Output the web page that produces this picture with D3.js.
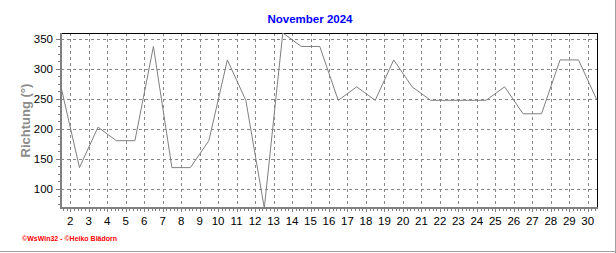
<!DOCTYPE html>
<html>
<head>
<meta charset="utf-8">
<script src="https://cdn.jsdelivr.net/npm/d3@7"></script>
<style>
  body { margin: 0; background: #fff; }
  text { font-family: "Liberation Sans", Arial, sans-serif; }
</style>
</head>
<body>
<div id="chart"></div>
<script>
const width = 616,
    height = 253;

// daily wind direction, November 2024 (day 1..30)
var days = d3.range(1, 31);
var richtung = [270, 135, 202.5, 180, 180, 337.5, 135, 135, 180, 315,
                247.5, 67.5, 360, 337.5, 337.5, 247.5, 270, 247.5, 315, 270,
                247.5, 247.5, 247.5, 247.5, 270, 225, 225, 315, 315, 247.5];
var xTicks = d3.range(2, 31);
var yTicks = [100, 150, 200, 250, 300, 350];

var title = "November 2024";
var yTitle = "Richtung (°)";
var credit = "©WsWin32 - ©Heiko Blädorn";

var plot = {left: 61, right: 597, top: 33, bottom: 208};

var svg = d3.select("#chart").append("svg")
    .attr("width", width)
    .attr("height", height);

svg.append("rect").attr("width", width).attr("height", height).attr("fill", "white");

// frame shadow right / bottom
svg.append("line").attr("x1", 615.5).attr("x2", 615.5).attr("y1", 0).attr("y2", height)
    .attr("stroke", "#a0a0a0");
svg.append("line").attr("x1", 0).attr("x2", width).attr("y1", 251.5).attr("y2", 251.5)
    .attr("stroke", "#a0a0a0");

var x = d3.scaleLinear().domain([1.5, 30.5]).range([plot.left, plot.right]);
var y = d3.scaleLinear().domain([67.5, 360]).range([plot.bottom, plot.top]);

// grid
var grid = svg.append("g").attr("shape-rendering", "crispEdges")
    .attr("stroke", "#888888").attr("stroke-dasharray", "3,3");

grid.selectAll(".vg").data(xTicks).join("line")
    .attr("x1", d => Math.round(x(d)) + 0.5).attr("x2", d => Math.round(x(d)) + 0.5)
    .attr("y1", plot.top).attr("y2", plot.bottom);

grid.selectAll(".hg").data(yTicks).join("line")
    .attr("x1", plot.left).attr("x2", plot.right)
    .attr("y1", d => Math.round(y(d)) + 0.5).attr("y2", d => Math.round(y(d)) + 0.5);

// black border top / right
svg.append("path")
    .attr("d", "M" + plot.left + "," + (plot.top + 0.5) + "H" + (plot.right + 0.5) + "V" + plot.bottom)
    .attr("fill", "none").attr("stroke", "black").attr("shape-rendering", "crispEdges");

// data line
var line = d3.line()
    .x((d, i) => x(days[i] + 0.5))
    .y(d => y(d));

svg.append("path")
    .datum(richtung)
    .attr("fill", "none")
    .attr("stroke", "#808080")
    .attr("stroke-width", 1)
    .attr("d", line);

// x axis
var minorX = d3.range(1.6, 30.5, 0.2).filter(d => Math.abs(d - Math.round(d)) > 0.05);
var axisX = svg.append("g").attr("shape-rendering", "crispEdges").attr("stroke", "#808080");
axisX.selectAll(".mx").data(minorX).join("line")
    .attr("x1", d => Math.round(x(d)) + 0.5).attr("x2", d => Math.round(x(d)) + 0.5)
    .attr("y1", plot.bottom).attr("y2", plot.bottom + 3);
axisX.selectAll(".Mx").data(xTicks).join("line")
    .attr("x1", d => Math.round(x(d)) + 0.5).attr("x2", d => Math.round(x(d)) + 0.5)
    .attr("y1", plot.bottom).attr("y2", plot.bottom + 4);
svg.append("rect")
    .attr("x", plot.left - 1).attr("y", plot.bottom - 1)
    .attr("width", plot.right - plot.left + 2).attr("height", 2)
    .attr("fill", "#808080");

svg.append("g").selectAll("text").data(xTicks).join("text")
    .attr("x", d => x(d))
    .attr("y", 225)
    .attr("text-anchor", "middle")
    .attr("font-size", "11.5px")
    .attr("fill", "black")
    .text(d => d);

// y axis
var minorY = d3.range(75, 360, 12.5).filter(d => d % 50 != 0);
var axisY = svg.append("g").attr("shape-rendering", "crispEdges").attr("stroke", "#808080");
axisY.selectAll(".my").data(minorY).join("line")
    .attr("x1", plot.left - 3).attr("x2", plot.left)
    .attr("y1", d => Math.round(y(d)) + 0.5).attr("y2", d => Math.round(y(d)) + 0.5);
axisY.selectAll(".My").data(yTicks).join("line")
    .attr("x1", plot.left - 5).attr("x2", plot.left)
    .attr("y1", d => Math.round(y(d)) + 0.5).attr("y2", d => Math.round(y(d)) + 0.5);
svg.append("rect")
    .attr("x", plot.left - 1).attr("y", plot.top)
    .attr("width", 2).attr("height", plot.bottom - plot.top + 1)
    .attr("fill", "#808080");

svg.append("g").selectAll("text").data(yTicks).join("text")
    .attr("x", 53)
    .attr("y", d => y(d) + 4)
    .attr("text-anchor", "end")
    .attr("font-size", "11.5px")
    .attr("fill", "black")
    .text(d => d);

// titles
svg.append("text")
    .attr("x", 310).attr("y", 23)
    .attr("text-anchor", "middle")
    .attr("font-size", "11.5px")
    .attr("font-weight", "bold")
    .attr("fill", "#0000ff")
    .text(title);

svg.append("text")
    .attr("transform", "translate(30," + ((plot.top + plot.bottom) / 2) + ") rotate(-90)")
    .attr("text-anchor", "middle")
    .attr("font-size", "13px")
    .attr("font-weight", "bold")
    .attr("fill", "#8c8c8c")
    .text(yTitle);

svg.append("text")
    .attr("x", 22).attr("y", 241)
    .attr("font-size", "7px")
    .attr("font-weight", "bold")
    .attr("fill", "#ff0000")
    .text(credit);
</script>
</body>
</html>
